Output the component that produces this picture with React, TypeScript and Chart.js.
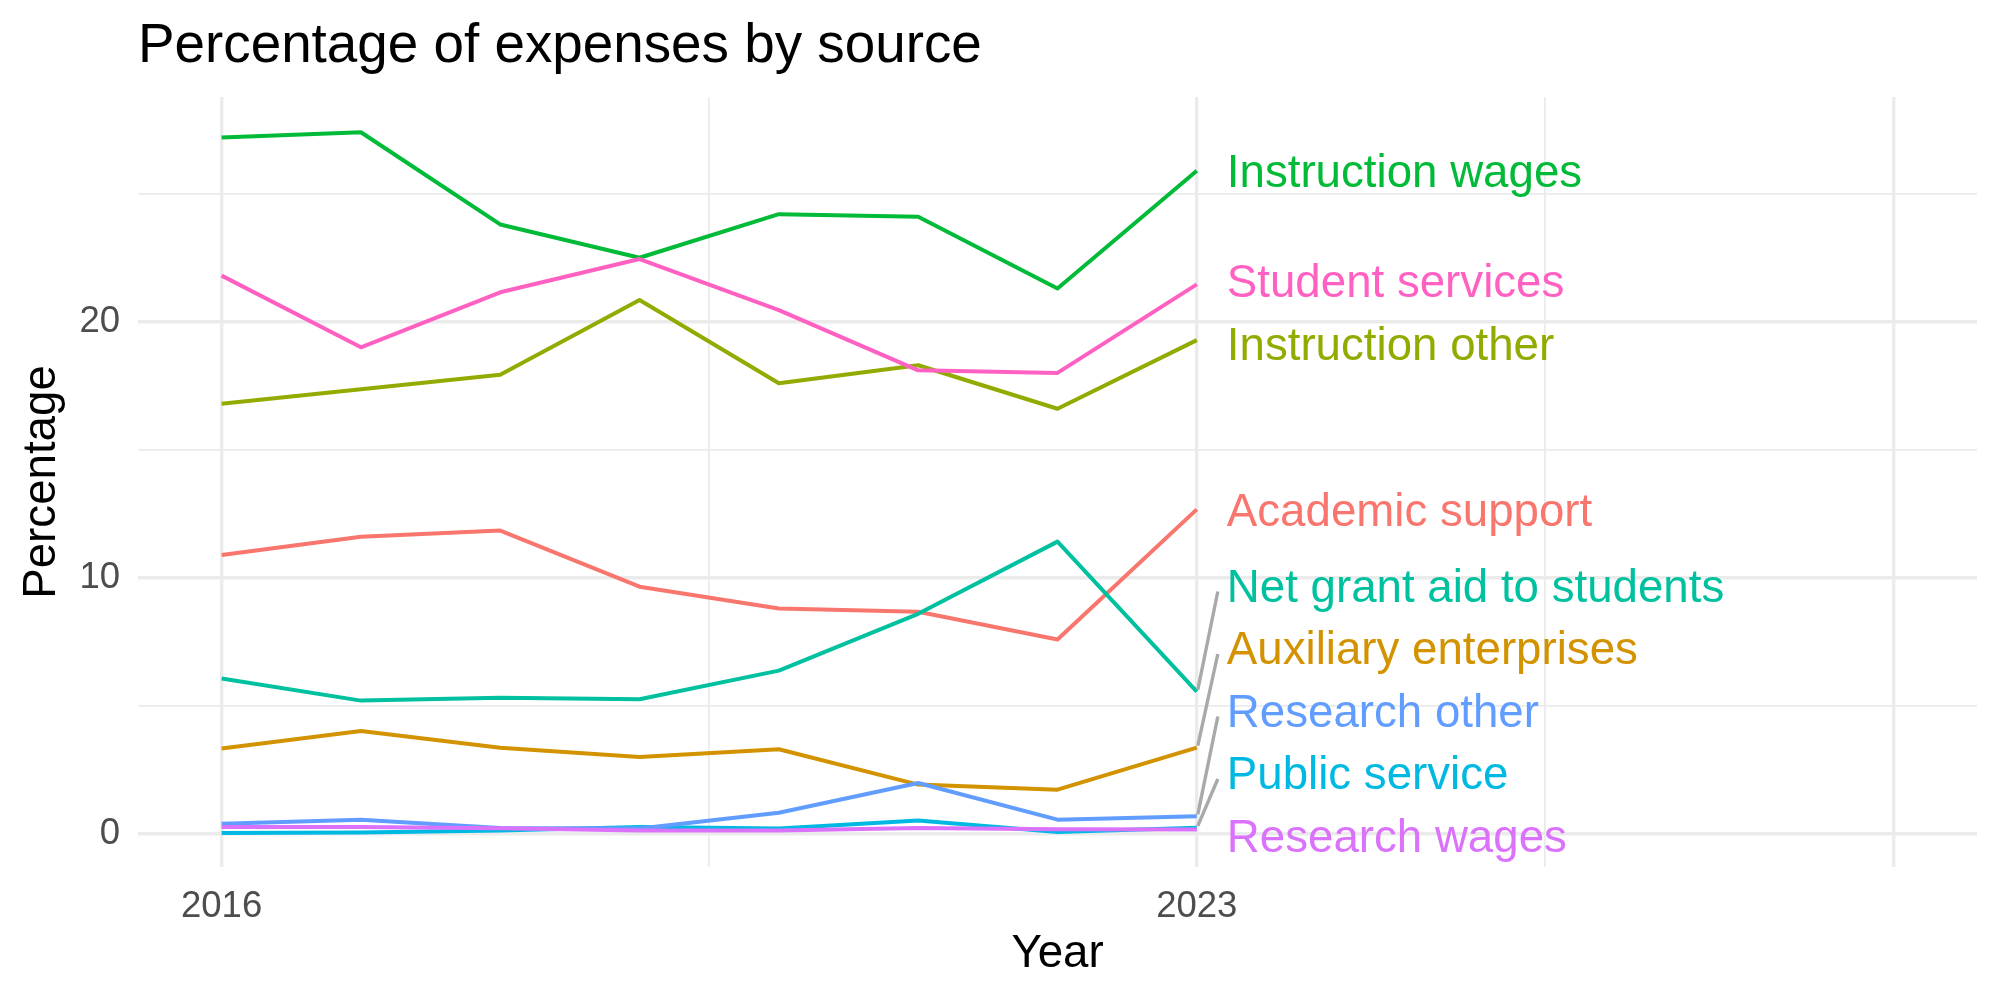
import React, { useEffect, useRef } from "react";
import { Chart, registerables } from "chart.js";

Chart.register(...registerables);

// ---------- data ----------
const years = [2016, 2017, 2018, 2019, 2020, 2021, 2022, 2023];

const seriesNames = [
  "Academic support",
  "Auxiliary enterprises",
  "Instruction other",
  "Instruction wages",
  "Net grant aid to students",
  "Public service",
  "Research other",
  "Research wages",
  "Student services",
];

const academicSupport = [10.89, 11.6, 11.84, 9.65, 8.8, 8.67, 7.59, 12.67];
const auxiliaryEnterprises = [3.33, 4.01, 3.36, 3.0, 3.3, 1.92, 1.72, 3.36];
const instructionOther = [16.8, 17.36, 17.93, 20.85, 17.6, 18.3, 16.6, 19.28];
const instructionWages = [27.2, 27.4, 23.8, 22.5, 24.2, 24.1, 21.3, 25.9];
const netGrantAid = [6.06, 5.2, 5.31, 5.25, 6.37, 8.59, 11.41, 5.55];
const publicService = [0.03, 0.05, 0.13, 0.26, 0.2, 0.52, 0.07, 0.23];
const researchOther = [0.39, 0.55, 0.22, 0.2, 0.82, 1.98, 0.55, 0.68];
const researchWages = [0.26, 0.26, 0.21, 0.13, 0.13, 0.22, 0.17, 0.16];
const studentServices = [21.8, 19.0, 21.15, 22.45, 20.45, 18.1, 18.0, 21.46];

const seriesValues = [
  academicSupport,
  auxiliaryEnterprises,
  instructionOther,
  instructionWages,
  netGrantAid,
  publicService,
  researchOther,
  researchWages,
  studentServices,
];

const seriesColors = [
  "#F8766D",
  "#D39200",
  "#93AA00",
  "#00BA38",
  "#00C19F",
  "#00B9E3",
  "#619CFF",
  "#DB72FB",
  "#FF61C3",
];

const xTickValues = [2016, 2019.5, 2023, 2025.5, 2028];
const xMajorTicks = [2016, 2023, 2028];
const xTickLabels = [2016, 2023];
const yTickValues = [0, 5, 10, 15, 20, 25];
const yMajorTicks = [0, 10, 20];
const yTickLabels = [0, 10, 20];

const titleText = "Percentage of expenses by source";
const xTitle = "Year";
const yTitle = "Percentage";

// ---------- styles ----------
const FONT = "'Liberation Sans', Arial, Helvetica, sans-serif";
const BASE = 45.67;
const GRID = "#EBEBEB";

const repelLabelPlugin = {
  id: "repelLabels",
  afterDatasetsDraw(chart: any) {
    const { ctx, scales, chartArea } = chart;
    const y = scales.y;
    const pxPerUnit = Math.abs(y.getPixelForValue(1) - y.getPixelForValue(0));
    const gap = 62.5 / pxPerUnit;
    const lower = y.getValueForPixel(chartArea.bottom - 31.5);

    const items = chart.data.datasets.map((ds: any, i: number) => {
      const last = ds.data[ds.data.length - 1];
      return { i, v: last.y, label: ds.label, color: ds.borderColor };
    });
    const sorted = [...items].sort((a: any, b: any) => a.v - b.v);
    // isotonic regression (PAVA) on shifted targets, then clamp at lower bound
    const w = sorted.map((it: any, k: number) => it.v - k * gap);
    const blocks: { sum: number; n: number }[] = [];
    for (const val of w) {
      blocks.push({ sum: val, n: 1 });
      while (
        blocks.length > 1 &&
        blocks[blocks.length - 2].sum / blocks[blocks.length - 2].n >
          blocks[blocks.length - 1].sum / blocks[blocks.length - 1].n
      ) {
        const b = blocks.pop()!;
        blocks[blocks.length - 1].sum += b.sum;
        blocks[blocks.length - 1].n += b.n;
      }
    }
    const q: number[] = [];
    for (const b of blocks) for (let k = 0; k < b.n; k++) q.push(b.sum / b.n);
    sorted.forEach((it: any, k: number) => {
      it.pos = Math.max(q[k], lower) + k * gap;
    });

    ctx.save();
    ctx.font = `${BASE}px ${FONT}`;
    ctx.textBaseline = "alphabetic";
    ctx.textAlign = "left";
    for (const it of sorted) {
      const meta = chart.getDatasetMeta(it.i);
      const pt = meta.data[meta.data.length - 1];
      const px = pt.x;
      const py = pt.y;
      const ly = y.getPixelForValue(it.pos);
      if (Math.abs(ly - py) > 20) {
        ctx.strokeStyle = "#A9A9A9";
        ctx.lineWidth = 3.4;
        ctx.lineCap = "butt";
        ctx.beginPath();
        ctx.moveTo(px + 1, py - 2);
        ctx.lineTo(px + 21, ly + 6);
        ctx.stroke();
      }
      ctx.fillStyle = it.color;
      ctx.fillText(it.label, px + 30, ly + 0.358 * BASE);
    }
    ctx.restore();
  },
};

export default function App() {
  const canvasRef = useRef<HTMLCanvasElement | null>(null);

  useEffect(() => {
    document.body.style.margin = "0";
    const canvas = canvasRef.current;
    if (!canvas) return;

    const datasets = seriesNames.map((name, i) => ({
      label: name,
      data: years.map((yr, j) => ({ x: yr, y: seriesValues[i][j] })),
      borderColor: seriesColors[i],
      backgroundColor: seriesColors[i],
      borderWidth: 4,
      pointRadius: 0,
      pointHoverRadius: 0,
      tension: 0,
      fill: false,
      borderCapStyle: "butt",
      borderJoinStyle: "round",
      order: -i,
    }));

    const chart = new Chart(canvas, {
      type: "line",
      data: { datasets } as any,
      options: {
        responsive: false,
        animation: false,
        devicePixelRatio: 1,
        events: [],
        layout: { padding: { left: 0, right: 23, top: 0, bottom: 0 } },
        plugins: {
          legend: { display: false },
          tooltip: { enabled: false },
          title: {
            display: true,
            text: titleText,
            align: "start",
            fullSize: false,
            color: "#000000",
            font: { family: FONT, size: 54.8, weight: "normal", lineHeight: 1.2 },
            padding: { top: 14, bottom: 17.2 },
          },
        },
        scales: {
          x: {
            type: "linear",
            min: 2015.4,
            max: 2028.6,
            afterBuildTicks: (s: any) => {
              s.ticks = xTickValues.map((v) => ({ value: v }));
            },
            afterFit: (s: any) => {
              s.height = 133;
            },
            ticks: {
              autoSkip: false,
              maxRotation: 0,
              minRotation: 0,
              padding: 18,
              color: "#4D4D4D",
              font: { family: FONT, size: 36.5, lineHeight: 1.2 },
              callback: (v: any) => (xTickLabels.includes(Number(v)) ? String(v) : ""),
            },
            grid: {
              color: GRID,
              lineWidth: (c: any) => (c.tick && xMajorTicks.includes(c.tick.value) ? 3.4 : 1.8),
              drawTicks: false,
            },
            border: { display: false },
            title: {
              display: true,
              text: xTitle,
              color: "#000000",
              font: { family: FONT, size: BASE, lineHeight: 1.2 },
              padding: { top: 0, bottom: 18 },
            },
          },
          y: {
            type: "linear",
            min: -1.3,
            max: 28.78,
            afterBuildTicks: (s: any) => {
              s.ticks = yTickValues.map((v) => ({ value: v }));
            },
            afterFit: (s: any) => {
              s.width = 138;
            },
            ticks: {
              autoSkip: false,
              padding: 18,
              color: "#4D4D4D",
              font: { family: FONT, size: 36.5, lineHeight: 1.2 },
              callback: (v: any) => (yTickLabels.includes(Number(v)) ? String(v) : ""),
            },
            grid: {
              color: GRID,
              lineWidth: (c: any) => (c.tick && yMajorTicks.includes(c.tick.value) ? 3.4 : 1.8),
              drawTicks: false,
            },
            border: { display: false },
            title: {
              display: true,
              text: yTitle,
              color: "#000000",
              font: { family: FONT, size: BASE, lineHeight: 1.2 },
              padding: { top: 15, bottom: 0 },
            },
          },
        },
      } as any,
      plugins: [repelLabelPlugin],
    });

    return () => {
      chart.destroy();
    };
  }, []);

  return (
    <div style={{ position: "absolute", left: 0, top: 0, width: 2000, height: 1000, background: "#ffffff" }}>
      <canvas ref={canvasRef} width={2000} height={1000} style={{ display: "block", width: 2000, height: 1000 }} />
    </div>
  );
}
